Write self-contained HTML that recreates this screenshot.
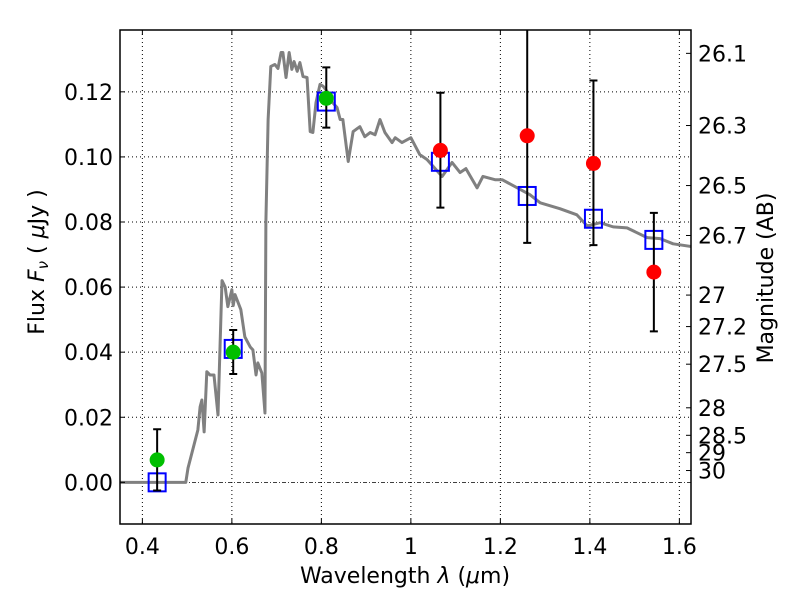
<!DOCTYPE html>
<html><head><meta charset="utf-8"><style>
body{margin:0;background:#fff}
svg text{font-family:"DejaVu Sans","Liberation Sans",sans-serif;fill:#000}
</style></head><body>
<svg id="c" width="800" height="600" xmlns="http://www.w3.org/2000/svg"></svg>
<script>
const specLam=[0.350,0.497,0.502,0.524,0.529,0.533,0.538,0.544,0.551,0.560,0.569,0.576,0.578,0.585,0.591,0.600,0.603,0.607,0.620,0.629,0.641,0.647,0.654,0.658,0.667,0.674,0.676,0.681,0.687,0.696,0.703,0.710,0.714,0.721,0.728,0.734,0.739,0.746,0.752,0.759,0.768,0.775,0.781,0.788,0.797,0.804,0.813,0.819,0.835,0.842,0.848,0.860,0.871,0.886,0.897,0.909,0.920,0.931,0.942,0.958,0.965,0.980,1.000,1.020,1.036,1.070,1.092,1.110,1.123,1.148,1.161,1.188,1.204,1.266,1.289,1.333,1.371,1.394,1.423,1.452,1.483,1.528,1.557,1.586,1.629];
const specFlux=[0,0,0.0044,0.0161,0.0232,0.0253,0.0155,0.0340,0.0330,0.0330,0.0207,0.0531,0.0620,0.0600,0.0540,0.0592,0.0543,0.0577,0.0531,0.0447,0.0416,0.0407,0.0330,0.0367,0.0336,0.0213,0.0800,0.1115,0.1278,0.1284,0.1272,0.1321,0.1321,0.1244,0.1321,0.1269,0.1293,0.1263,0.1290,0.1247,0.1244,0.1078,0.1075,0.1167,0.1223,0.1217,0.1201,0.1176,0.1152,0.1115,0.1115,0.0986,0.1078,0.1093,0.1062,0.1075,0.1068,0.1115,0.1075,0.1044,0.1059,0.1044,0.1059,0.1007,0.0992,0.0940,0.0983,0.0952,0.0964,0.0905,0.0940,0.0930,0.0930,0.0884,0.0859,0.0841,0.0822,0.0788,0.0798,0.0785,0.0782,0.0752,0.0749,0.0733,0.0724];
const modelLam=[0.433,0.603,0.811,1.066,1.26,1.408,1.543];
const modelFlux=[0.0,0.041,0.117,0.0985,0.088,0.081,0.0745];
const greenLam=[0.433,0.603,0.811];
const greenFlux=[0.0069,0.040,0.118];
const greenLo=[-0.0025,0.0333,0.109];
const greenHi=[0.0163,0.0468,0.1275];
const redLam=[1.066,1.26,1.408,1.543];
const redFlux=[0.102,0.1065,0.098,0.0646];
const redLo=[0.0844,0.0736,0.0729,0.0464];
const redHi=[0.1197,0.145,0.1235,0.0828];
const xTicks=[0.4,0.6,0.8,1.0,1.2,1.4,1.6];
const xTickLabels=["0.4","0.6","0.8","1","1.2","1.4","1.6"];
const yTicks=[0,0.02,0.04,0.06,0.08,0.10,0.12];
const yTickLabels=["0.00","0.02","0.04","0.06","0.08","0.10","0.12"];
const magTicks=[26.1,26.3,26.5,26.7,27,27.2,27.5,28,28.5,29,30];
const magLabels=["26.1","26.3","26.5","26.7","27","27.2","27.5","28","28.5","29","30"];

const L=120,R=691,T=30,B=524,xmin=0.35,xmax=1.626,ymin=-0.0128,ymax=0.139;
const X=v=>L+(v-xmin)/(xmax-xmin)*(R-L);
const Y=v=>B-(v-ymin)/(ymax-ymin)*(B-T);
const svg=document.getElementById('c');const NS='http://www.w3.org/2000/svg';
function mk(tag,at,parent){const e=document.createElementNS(NS,tag);for(const k in at)e.setAttribute(k,at[k]);(parent||svg).appendChild(e);return e;}
const defs=mk('defs',{});const cp=mk('clipPath',{id:'cl'},defs);mk('rect',{x:L,y:T,width:R-L,height:B-T},cp);
const plot=mk('g',{'clip-path':'url(#cl)'});


xTicks.forEach((t,i)=>{const g=mk('line',{x1:X(t),x2:X(t),y1:T,y2:B,stroke:'#000','stroke-width':1,'stroke-dasharray':'1,3'},plot);


mk('line',{x1:X(t),x2:X(t),y1:B,y2:B-5,stroke:'#000'});mk('line',{x1:X(t),x2:X(t),y1:T,y2:T+5,stroke:'#000'});
const tx=mk('text',{x:X(t),y:B+30,'font-size':22,'text-anchor':'middle'});tx.textContent=xTickLabels[i];

});
yTicks.forEach((t,i)=>{if(t!==0){const g=mk('line',{x1:L,x2:R,y1:Y(t),y2:Y(t),stroke:'#000','stroke-dasharray':'1,3'},plot);

}
mk('line',{x1:L,x2:L+5,y1:Y(t),y2:Y(t),stroke:'#000'});
const tx=mk('text',{x:L-7,y:Y(t)+8,'font-size':22,'text-anchor':'end'});tx.textContent=yTickLabels[i];

});
const zl=mk('line',{x1:L,x2:R,y1:Y(0),y2:Y(0),stroke:'#000','stroke-dasharray':'4,2,1,2','stroke-width':0.8},plot);


const sp=mk('polyline',{points:specLam.map((l,i)=>X(l)+','+Y(specFlux[i])).join(' '),fill:'none',stroke:'#808080','stroke-width':3,'stroke-linejoin':'round'},plot);


modelLam.forEach((l,i)=>{const r=mk('rect',{x:X(l)-8.5,y:Y(modelFlux[i])-9,width:17,height:18,fill:'none',stroke:'#0000ff','stroke-width':2},plot);

});
function pts(lam,fl,lo,hi,col,name){lam.forEach((l,i)=>{const x=X(l);
const e=mk('path',{d:`M${x},${Y(lo[i])}V${Y(hi[i])}M${x-4},${Y(lo[i])}H${x+4}M${x-4},${Y(hi[i])}H${x+4}`,stroke:'#000','stroke-width':2,fill:'none'},plot);


const c=mk('circle',{cx:x,cy:Y(fl[i]),r:7.5,fill:col},plot);

});}
pts(greenLam,greenFlux,greenLo,greenHi,'#00bf00','detection');
pts(redLam,redFlux,redLo,redHi,'#ff0000','upper-band');
magTicks.forEach((m,i)=>{const f=Math.pow(10,(23.9-m)/2.5);const y=Y(f);
mk('line',{x1:R,x2:R-5,y1:y,y2:y,stroke:'#000'});
const tx=mk('text',{x:R+7,y:y+8,'font-size':22});tx.textContent=magLabels[i];

});
const fr=mk('rect',{x:L,y:T,width:R-L,height:B-T,fill:'none',stroke:'#000','stroke-width':1.5});


</script>
<svg width="800" height="600" style="position:absolute;left:0;top:0" xmlns="http://www.w3.org/2000/svg">
<text x="405" y="583" font-size="22" text-anchor="middle">Wavelength  <tspan font-style="italic">λ</tspan> (<tspan font-style="italic">μ</tspan>m)</text>
<text transform="translate(44,262) rotate(-90)" font-size="22" text-anchor="middle">Flux  <tspan font-style="italic">F</tspan><tspan font-style="italic" font-size="15" dy="4">ν</tspan><tspan dy="-4">  (  </tspan><tspan font-style="italic">μ</tspan>Jy )</text>
<text transform="translate(773,278) rotate(-90)" font-size="22" text-anchor="middle">Magnitude (AB)</text>
</svg>
</body></html>
